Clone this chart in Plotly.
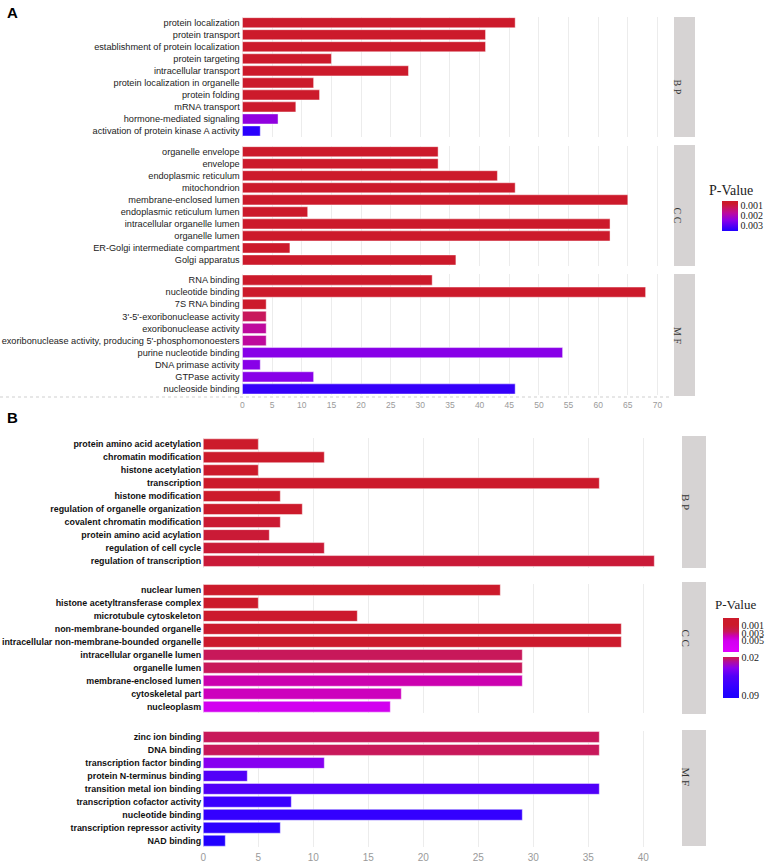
import plotly.graph_objects as go

# ---------------- Panel A data ----------------
A_BP_terms = ["protein localization", "protein transport", "establishment of protein localization",
              "protein targeting", "intracellular transport", "protein localization in organelle",
              "protein folding", "mRNA transport", "hormone-mediated signaling",
              "activation of protein kinase A activity"]
A_BP_counts = [46, 41, 41, 15, 28, 12, 13, 9, 6, 3]
A_BP_p = [0.0001, 0.0001, 0.0001, 0.0003, 0.0004, 0.0005, 0.0006, 0.0007, 0.0024, 0.0034]

A_CC_terms = ["organelle envelope", "envelope", "endoplasmic reticulum", "mitochondrion",
              "membrane-enclosed lumen", "endoplasmic reticulum lumen", "intracellular organelle lumen",
              "organelle lumen", "ER-Golgi intermediate compartment", "Golgi apparatus"]
A_CC_counts = [33, 33, 43, 46, 65, 11, 62, 62, 8, 36]
A_CC_p = [0.0001, 0.0001, 0.0002, 0.0003, 0.0004, 0.0004, 0.0005, 0.0005, 0.0006, 0.0007]

A_MF_terms = ["RNA binding", "nucleotide binding", "7S RNA binding", "3'-5'-exoribonuclease activity",
              "exoribonuclease activity", "exoribonuclease activity, producing 5'-phosphomonoesters",
              "purine nucleotide binding", "DNA primase activity", "GTPase activity", "nucleoside binding"]
A_MF_counts = [32, 68, 4, 4, 4, 4, 54, 3, 12, 46]
A_MF_p = [0.0002, 0.0004, 0.0007, 0.00125, 0.00175, 0.00175, 0.0025, 0.0025, 0.0025, 0.0033]

# ---------------- Panel B data ----------------
B_BP_terms = ["protein amino acid acetylation", "chromatin modification", "histone acetylation",
              "transcription", "histone modification", "regulation of organelle organization",
              "covalent chromatin modification", "protein amino acid acylation",
              "regulation of cell cycle", "regulation of transcription"]
B_BP_counts = [5, 11, 5, 36, 7, 9, 7, 6, 11, 41]
B_BP_p = [0.0002, 0.0003, 0.0004, 0.0005, 0.0006, 0.0008, 0.0012, 0.0013, 0.0013, 0.0014]

B_CC_terms = ["nuclear lumen", "histone acetyltransferase complex", "microtubule cytoskeleton",
              "non-membrane-bounded organelle", "intracellular non-membrane-bounded organelle",
              "intracellular organelle lumen", "organelle lumen", "membrane-enclosed lumen",
              "cytoskeletal part", "nucleoplasm"]
B_CC_counts = [27, 5, 14, 38, 38, 29, 29, 29, 18, 17]
B_CC_p = [0.0006, 0.0008, 0.0009, 0.0009, 0.0009, 0.0026, 0.0026, 0.0037, 0.00395, 0.0051]

B_MF_terms = ["zinc ion binding", "DNA binding", "transcription factor binding",
              "protein N-terminus binding", "transition metal ion binding",
              "transcription cofactor activity", "nucleotide binding",
              "transcription repressor activity", "NAD binding"]
B_MF_counts = [36, 36, 11, 4, 36, 8, 29, 7, 2]
B_MF_p = [0.018, 0.018, 0.04, 0.055, 0.056, 0.07, 0.075, 0.08, 0.088]

A_ticks = [0.001, 0.002, 0.003]
B_ticks1 = [0.001, 0.003, 0.005]
B_ticks2 = [0.02, 0.09]
strip_labels = ["B P", "C C", "M F"]

# ---------------- helpers ----------------
W, H = 767, 866
def fx(x):
    return x / W
def fy(y):
    return 1 - y / H

fig = go.Figure()

facets = [
    # terms, counts, p, coloraxis, y-domain px (top, bottom)
    (A_BP_terms, A_BP_counts, A_BP_p, "coloraxis", (16.7, 137.0)),
    (A_CC_terms, A_CC_counts, A_CC_p, "coloraxis", (145.7, 266.0)),
    (A_MF_terms, A_MF_counts, A_MF_p, "coloraxis", (274.0, 395.0)),
    (B_BP_terms, B_BP_counts, B_BP_p, "coloraxis2", (437.8, 567.5)),
    (B_CC_terms, B_CC_counts, B_CC_p, "coloraxis2", (583.5, 713.2)),
    (B_MF_terms, B_MF_counts, B_MF_p, "coloraxis3", (730.5, 847.2)),
]

layout_axes = {}
for i, (terms, counts, pv, cax, (ytop, ybot)) in enumerate(facets, start=1):
    sfx = "" if i == 1 else str(i)
    panelA = i <= 3
    fig.add_trace(go.Bar(
        x=counts, y=terms, orientation="h",
        marker=dict(color=[-v for v in pv], coloraxis=cax,
                    line=dict(color="rgba(255,255,255,0.45)", width=1)),
        xaxis="x" + sfx, yaxis="y" + sfx, showlegend=False,
    ))
    if panelA:
        xdom = [fx(240.7), fx(671.1)]
        xrng = [-0.3, 72.3]
        tfont = dict(family="Liberation Sans", size=8.5, color="#9a9a9a")
        yfont = dict(family="Liberation Sans", size=9.2, color="#222222")
    else:
        xdom = [fx(202.2), fx(678.5)]
        xrng = [-0.1, 43.2]
        tfont = dict(family="Liberation Sans", size=10, color="#9a9a9a")
        yfont = dict(family="Liberation Sans", size=8.9, color="#111111")
    layout_axes["xaxis" + sfx] = dict(
        domain=xdom, range=xrng, anchor="y" + sfx, showgrid=True, gridcolor="#ececec",
        gridwidth=1, dtick=5, tick0=0, zeroline=False, showline=False, ticks="",
        showticklabels=(i in (3, 6)), tickfont=tfont, fixedrange=True,
        ticklabelstandoff=3,
    )
    layout_axes["yaxis" + sfx] = dict(
        domain=[fy(ybot), fy(ytop)], anchor="x" + sfx, type="category",
        categoryorder="array", categoryarray=terms, autorange="reversed",
        showgrid=False, zeroline=False, showline=False, ticks="",
        tickfont=dict(yfont, weight="bold") if not panelA else yfont,
        automargin=False,
    )

# strips
shapes = []
annotations = []
strips_A = [(17, 137), (145, 266), (274, 396)]
strips_B = [(436, 568), (582, 714), (730, 846)]
for (t, b), lab in zip(strips_A, strip_labels):
    shapes.append(dict(type="rect", xref="paper", yref="paper", x0=fx(674), x1=fx(695),
                       y0=fy(b), y1=fy(t), fillcolor="#d6d3d3", line=dict(width=0), layer="below"))
    annotations.append(dict(x=fx(684.5), y=fy((t + b) / 2), xref="paper", yref="paper",
                            text=lab, textangle=90, showarrow=False,
                            font=dict(family="Liberation Serif", size=10, color="#333333")))
for (t, b), lab in zip(strips_B, strip_labels):
    shapes.append(dict(type="rect", xref="paper", yref="paper", x0=fx(682), x1=fx(706),
                       y0=fy(b), y1=fy(t), fillcolor="#d6d3d3", line=dict(width=0), layer="below"))
    annotations.append(dict(x=fx(694), y=fy((t + b) / 2), xref="paper", yref="paper",
                            text=lab, textangle=90, showarrow=False,
                            font=dict(family="Liberation Serif", size=11, color="#333333")))

# dotted baseline under panel A
shapes.append(dict(type="line", xref="paper", yref="paper", x0=0, x1=fx(671), y0=fy(397), y1=fy(397),
                   line=dict(color="#cfcfcf", width=1, dash="dot")))

# panel letters
annotations.append(dict(x=fx(5), y=fy(12), xref="paper", yref="paper", text="<b>A</b>",
                        xanchor="left", yanchor="middle", showarrow=False,
                        font=dict(family="Liberation Sans", size=15, color="#000000")))
annotations.append(dict(x=fx(5), y=fy(418), xref="paper", yref="paper", text="<b>B</b>",
                        xanchor="left", yanchor="middle", showarrow=False,
                        font=dict(family="Liberation Sans", size=15, color="#000000")))

# colorbar titles
annotations.append(dict(x=fx(707), y=fy(190), xref="paper", yref="paper", text="P-Value",
                        xanchor="left", yanchor="middle", showarrow=False,
                        font=dict(family="Liberation Serif", size=14, color="#222222")))
annotations.append(dict(x=fx(713), y=fy(604), xref="paper", yref="paper", text="P-Value",
                        xanchor="left", yanchor="middle", showarrow=False,
                        font=dict(family="Liberation Serif", size=13, color="#222222")))

cb_font = dict(family="Liberation Serif", size=10, color="#222222")

fig.update_layout(
    width=W, height=H, margin=dict(l=0, r=0, t=0, b=0),
    template="none", paper_bgcolor="white", plot_bgcolor="white",
    bargap=0.16, showlegend=False,
    shapes=shapes, annotations=annotations,
    coloraxis=dict(
        cmin=-0.0035, cmax=-0.0006,
        colorscale=[[0, "#2000FF"], [0.35, "#8A00E8"], [0.6, "#BE0A9E"], [0.78, "#C8185A"],
                    [0.92, "#CC1A2B"], [1, "#CC1A2B"]],
        colorbar=dict(x=fx(722), xanchor="left", xpad=0, y=fy(216), yanchor="middle", ypad=0,
                      len=30, lenmode="pixels", thickness=16, thicknessmode="pixels",
                      outlinewidth=0, ticks="", tickvals=[-v for v in A_ticks],
                      ticktext=[f"{v:.3f}" for v in A_ticks], tickfont=cb_font, title=dict(text="")),
    ),
    coloraxis2=dict(
        cmin=-0.008, cmax=0.001,
        colorscale=[[0, "#E000FF"], [0.33, "#D200F0"], [0.47, "#CC00B4"], [0.6, "#C8185A"],
                    [0.7, "#C91A3E"], [0.8, "#CC1A2B"], [1, "#CC1A2B"]],
        colorbar=dict(x=fx(723), xanchor="left", xpad=0, y=fy(635), yanchor="middle", ypad=0,
                      len=34, lenmode="pixels", thickness=16, thicknessmode="pixels",
                      outlinewidth=0, ticks="", tickvals=[-v for v in B_ticks1],
                      ticktext=[f"{v:.3f}" for v in B_ticks1], tickfont=cb_font, title=dict(text="")),
    ),
    coloraxis3=dict(
        cmin=-0.095, cmax=-0.0195,
        colorscale=[[0, "#1E00FF"], [0.106, "#2200FF"], [0.318, "#3A00FF"], [0.53, "#5200F8"],
                    [0.731, "#8800F0"], [0.88, "#B00CA0"], [0.97, "#C8185A"], [1, "#C8185A"]],
        colorbar=dict(x=fx(723), xanchor="left", xpad=0, y=fy(677.5), yanchor="middle", ypad=0,
                      len=41, lenmode="pixels", thickness=16, thicknessmode="pixels",
                      outlinewidth=0, ticks="", tickvals=[-v for v in B_ticks2],
                      ticktext=[f"{v:.2f}" for v in B_ticks2], tickfont=cb_font, title=dict(text="")),
    ),
    **layout_axes,
)

fig.write_html("out.html", config={"displayModeBar": False},
               post_script="document.body.style.margin='0px';")
